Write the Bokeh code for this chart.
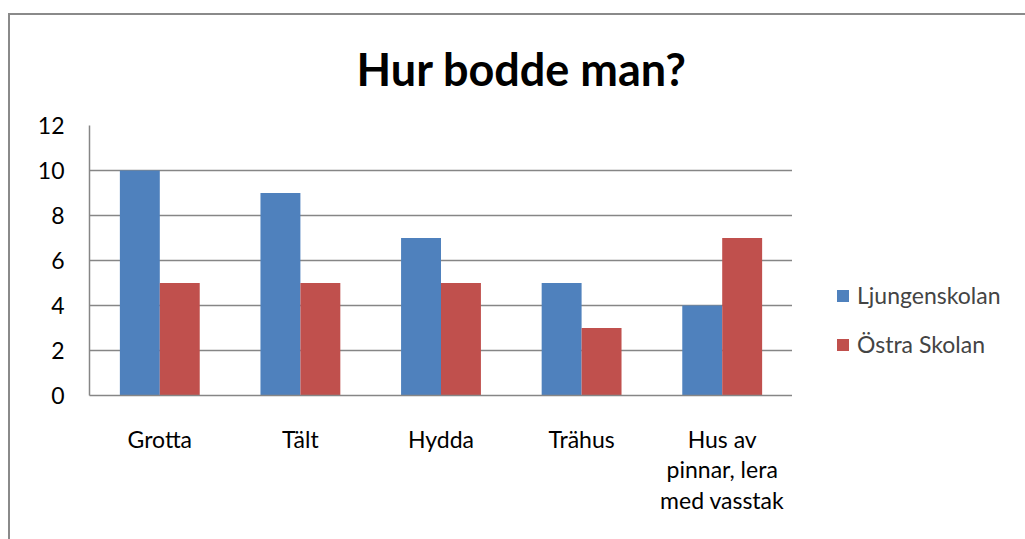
from bokeh.plotting import figure
from bokeh.models import ColumnDataSource, Legend, LegendItem, FactorRange
from bokeh.layouts import row
from bokeh.transform import dodge
from bokeh.embed import file_html
from bokeh.resources import INLINE

categories = ["Grotta", "Tält", "Hydda", "Trähus", "Hus av\npinnar, lera\nmed vasstak"]
ljungenskolan = [10, 9, 7, 5, 4]
ostra_skolan = [5, 5, 5, 3, 7]
series_names = ["Ljungenskolan", "Östra Skolan"]
colors = ["#4F81BD", "#C0504D"]

FONT = "Lato"

src = ColumnDataSource(dict(cat=categories, a=ljungenskolan, b=ostra_skolan))

p = figure(x_range=FactorRange(*categories), y_range=(0, 12),
           width=792, height=539, output_backend="svg", toolbar_location=None,
           min_border_left=89, min_border_top=125, min_border_right=0, min_border_bottom=144,
           title="Hur bodde man?")
p.border_fill_alpha = 0
p.background_fill_color = "#ffffff"

bw = 0.284
r1 = p.vbar(x=dodge("cat", -bw / 2, range=p.x_range), top="a", width=bw, source=src,
            fill_color=colors[0], line_color=None)
r2 = p.vbar(x=dodge("cat", bw / 2, range=p.x_range), top="b", width=bw, source=src,
            fill_color=colors[1], line_color=None)

p.title.text_font = FONT
p.title.text_font_style = "bold"
p.title.text_font_size = "45px"
p.title.align = "left"
p.title.offset = 267
p.title.standoff = 59
p.title.text_color = "#000000"

p.outline_line_color = None
p.xgrid.grid_line_color = None
p.ygrid.grid_line_color = "#868686"
p.ygrid.grid_line_width = 1.3
p.yaxis.ticker = [0, 2, 4, 6, 8, 10, 12]

for ax in (p.xaxis[0], p.yaxis[0]):
    ax.axis_line_color = "#868686"
    ax.axis_line_width = 1.5
    ax.major_tick_line_color = None
    ax.minor_tick_line_color = None
    ax.major_label_text_font = FONT
    ax.major_label_text_font_size = "23px"
    ax.major_label_text_color = "#000000"
p.yaxis.major_label_standoff = 19
p.xaxis.major_label_standoff = 23
p.xaxis.major_label_text_line_height = 1.1
p.x_range.range_padding = 0
p.x_range.group_padding = 0

# legend panel to the right of the plot area (its proxy bars have zero size)
lf = figure(width=233, height=539, x_range=(0, 1), y_range=(0, 1),
            output_backend="svg", toolbar_location=None,
            x_axis_type=None, y_axis_type=None, min_border=0)
lf.grid.visible = False
lf.outline_line_color = None
lf.border_fill_alpha = 0
lf.background_fill_alpha = 0
lr1 = lf.vbar(x=0.5, top="a", bottom="a", width=0, source=src,
              fill_color=colors[0], line_color=None)
lr2 = lf.vbar(x=0.5, top="b", bottom="b", width=0, source=src,
              fill_color=colors[1], line_color=None)

legend = Legend(items=[LegendItem(label=series_names[0], renderers=[lr1]),
                       LegendItem(label=series_names[1], renderers=[lr2])],
                location=(43, 37), orientation="vertical",
                label_text_font=FONT, label_text_font_size="23px",
                glyph_width=15, glyph_height=15, spacing=21,
                label_standoff=7, border_line_color=None, background_fill_alpha=0,
                padding=0, margin=0)
lf.add_layout(legend, "center")

layout = row(p, lf, spacing=0)
g = "linear-gradient(#8a8a8a, #8a8a8a)"
layout.styles = {"background": f"{g} 8px 13px / 100% 2px no-repeat, {g} 8px 13px / 2px 100% no-repeat, #ffffff"}

open("out.html", "w").write(file_html(layout, INLINE))
